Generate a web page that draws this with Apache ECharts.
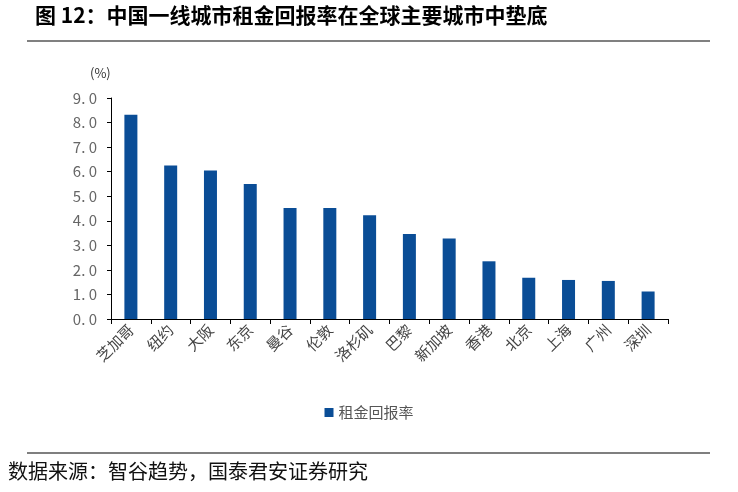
<!DOCTYPE html>
<html><head><meta charset="utf-8">
<script src="https://cdn.jsdelivr.net/npm/echarts@6/dist/echarts.min.js"></script>
<style>html,body{margin:0;padding:0;background:#fff}#c{width:738px;height:492px}</style>
</head><body><div id="c"></div>
<script>
const categories = ['芝加哥','纽约','大阪','东京','曼谷','伦敦','洛杉矶','巴黎','新加坡','香港','北京','上海','广州','深圳'];
const rentYield = [8.32, 6.25, 6.05, 5.5, 4.52, 4.52, 4.23, 3.46, 3.28, 2.35, 1.68, 1.59, 1.55, 1.12];
const seriesName = '租金回报率';
const titleText = '图 12：中国一线城市租金回报率在全球主要城市中垫底';
const sourceText = '数据来源：智谷趋势，国泰君安证券研究';
const unitText = '(%)';

const chart = echarts.init(document.getElementById('c'));
const cjk = '"Noto Sans CJK SC", sans-serif';
chart.setOption({
  animation: false,
  textStyle: {fontFamily: cjk},
  graphic: [
    {type: 'text', left: 35, top: 5, style: {text: titleText, font: 'bold 21px "Noto Sans CJK SC"', fill: '#000'}},
    {type: 'line', shape: {x1: 27, y1: 41, x2: 710, y2: 41}, style: {stroke: '#808080', lineWidth: 2}},
    {type: 'line', shape: {x1: 27, y1: 453, x2: 710, y2: 453}, style: {stroke: '#555', lineWidth: 1.5}},
    {type: 'text', left: 8, top: 461, style: {text: sourceText, font: '20px "Noto Sans CJK SC"', fill: '#111'}},
    {type: 'text', left: 90, top: 67, style: {text: unitText, font: '13px "Noto Sans CJK SC"', fill: '#333'}}
  ],
  legend: {
    data: [seriesName], left: 'center', top: 400, itemWidth: 9, itemHeight: 9, itemGap: 4,
    icon: 'rect', textStyle: {fontSize: 15, color: '#555'}
  },
  grid: {left: 111, right: 70, top: 98, bottom: 173, containLabel: false},
  xAxis: {
    type: 'category', data: categories,
    axisLine: {lineStyle: {color: '#000', width: 1}},
    axisTick: {show: true, length: 5, lineStyle: {color: '#000'}},
    axisLabel: {rotate: 45, fontSize: 15, color: '#444', margin: 8}
  },
  yAxis: {
    type: 'value', min: 0, max: 9, interval: 1,
    axisLine: {show: true, lineStyle: {color: '#000'}},
    axisTick: {show: true, length: 4, lineStyle: {color: '#000'}},
    splitLine: {show: false},
    axisLabel: {fontSize: 15, color: '#666', margin: 14, formatter: v => v.toFixed(1).replace('.', '. ')}
  },
  series: [{
    name: seriesName, type: 'bar', data: rentYield, barWidth: 13,
    itemStyle: {color: '#0A4D96'}
  }]
});
</script></body></html>
